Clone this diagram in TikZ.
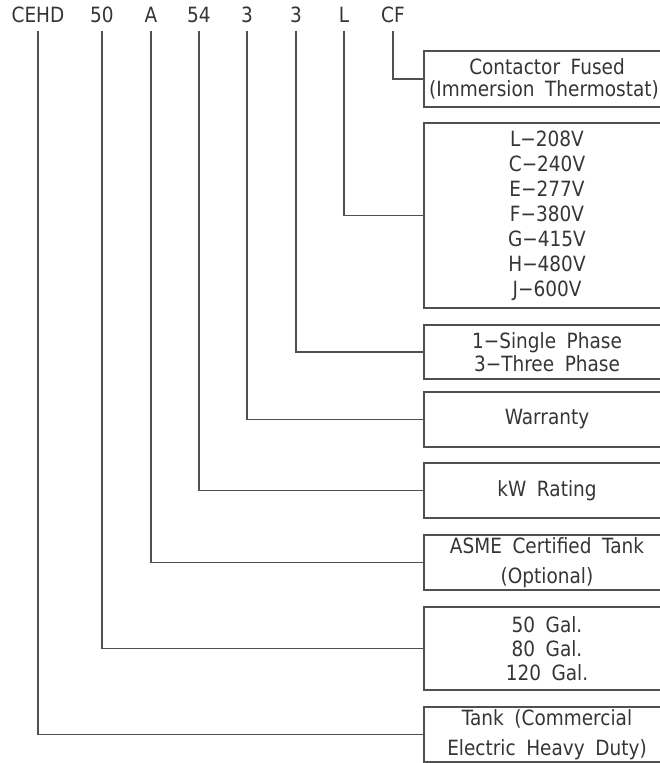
\documentclass[tikz,border=0pt]{standalone}
\usepackage{fontspec}
\setmainfont{DejaVu Sans}[WordSpace=1.8,FakeStretch=0.88]
\begin{document}
\begin{tikzpicture}[x=1pt,y=-1pt,
  lbl/.style={inner xsep=0pt,inner ysep=8pt,text height=15pt,text depth=0pt,font=\fontsize{21}{21}\selectfont,text=txt},
  optbox/.style={draw=edge,line width=1.5pt,rectangle,minimum width=246pt,inner sep=0pt,align=center,text=txt,font=\fontsize{21}{24}\selectfont},
  conn/.style={draw=edge,line width=1.4pt}]
\definecolor{txt}{HTML}{353535}
\definecolor{edge}{HTML}{505050}
\useasboundingbox (0,0) rectangle (660,763);
% code labels
\node[lbl] (cehd) at (38,15) {CEHD};
\node[lbl] (gal) at (102,15) {50};
\node[lbl] (asme) at (151,15) {A};
\node[lbl] (kw) at (199,15) {54};
\node[lbl] (warr) at (247,15) {3};
\node[lbl] (phase) at (296,15) {3};
\node[lbl] (volt) at (344,15) {L};
\node[lbl] (cf) at (393,15) {CF};
% option boxes (x from 424 to 670)
\node[optbox,minimum height=56pt,font=\fontsize{21}{22}\selectfont] (bcf) at (547,79) {Contactor Fused\\\hspace*{-6pt}(Immersion Thermostat)};
\node[optbox,minimum height=185pt,font=\fontsize{21}{25}\selectfont] (bvolt) at (547,215.5) {L−208V\\C−240V\\E−277V\\F−380V\\G−415V\\H−480V\\J−600V};
\node[optbox,minimum height=54pt,font=\fontsize{21}{23}\selectfont] (bphase) at (547,352) {1−Single Phase\\3−Three Phase};
\node[optbox,minimum height=55pt] (bwarr) at (547,419.5) {Warranty};
\node[optbox,minimum height=55pt] (bkw) at (547,490.5) {kW Rating};
\node[optbox,minimum height=55pt,font=\fontsize{21}{30}\selectfont] (basme) at (547,562.5) {ASME Certified Tank\\(Optional)};
\node[optbox,minimum height=83pt,font=\fontsize{21}{24}\selectfont] (bgal) at (547,648.5) {50 Gal.\\80 Gal.\\120 Gal.};
\node[optbox,minimum height=55pt,font=\fontsize{21}{30}\selectfont] (bcehd) at (547,734.5) {Tank (Commercial\\Electric Heavy Duty)};
% connectors
\draw[conn] (cf.south) |- (bcf.west);
\draw[conn] (volt.south) |- (bvolt.west);
\draw[conn] (phase.south) |- (bphase.west);
\draw[conn] (warr.south) |- (bwarr.west);
\draw[conn] (kw.south) |- (bkw.west);
\draw[conn] (asme.south) |- (basme.west);
\draw[conn] (gal.south) |- (bgal.west);
\draw[conn] (cehd.south) |- (bcehd.west);
\end{tikzpicture}
\end{document}
